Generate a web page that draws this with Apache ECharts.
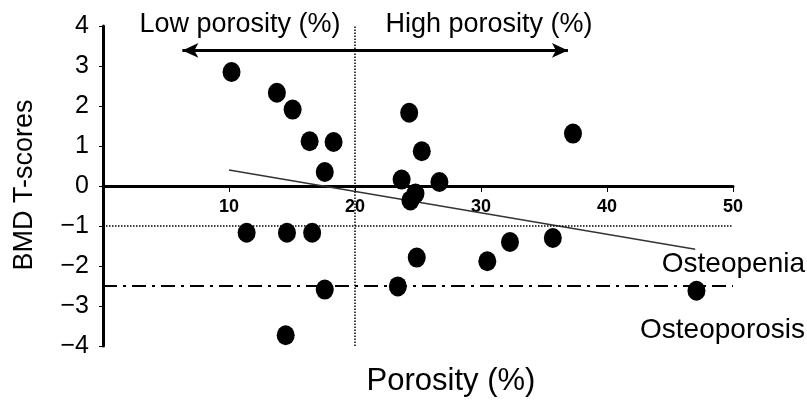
<!DOCTYPE html>
<html>
<head>
<meta charset="utf-8">
<script src="https://cdn.jsdelivr.net/npm/echarts@6/dist/echarts.min.js"></script>
<style>
	html, body { margin: 0; padding: 0; background: #fff; }
	#porosity { width: 807px; height: 403px; }
</style>
</head>
<body>
<div id="porosity"></div>
<script>
// porosity (%) and BMD T-score of each sample
const porosity = [10.2, 13.8, 15.05, 16.4, 18.3, 17.6, 24.3, 25.3, 26.7, 37.3, 11.4, 14.6, 16.6, 17.6, 14.5, 23.4, 24.9, 30.5, 32.3, 35.7, 47.1, 23.7, 24.8, 24.4];
const tScores = [2.85, 2.33, 1.91, 1.12, 1.10, 0.35, 1.83, 0.87, 0.10, 1.31, -1.17, -1.17, -1.17, -2.59, -3.73, -2.51, -1.79, -1.88, -1.40, -1.30, -2.62, 0.16, -0.19, -0.36];

// regression line ends
const trendX = [10, 47];
const trendY = [0.4, -1.58];

const xTicks = [10, 20, 30, 40, 50];
const yTicks = [-4, -3, -2, -1, 0, 1, 2, 3, 4];

const osteopenia = -1;
const osteoporosis = -2.5;
const splitPorosity = 20;
const arrowRange = [6.3, 36.9];
const arrowLevel = 3.39;

const font = 'Liberation Sans, Arial, sans-serif';

chartInit = () => {
	let chart = echarts.init(document.getElementById('porosity'));

	let points = porosity.map((p, i) => [p, tScores[i]]);
	let trend = trendX.map((x, i) => [x, trendY[i]]);

	let option = {
		animation: false,
		backgroundColor: '#fff',
		textStyle: { fontFamily: font, color: '#000' },
		grid: { left: 103, right: 74, top: 26, bottom: 57, containLabel: false },
		xAxis: {
			type: 'value',
			min: 0,
			max: xTicks[xTicks.length - 1],
			interval: 10,
			// axis sits on T-score 0 (plot is 320px high for 8 units)
			offset: -160,
			axisLine: { onZero: false, lineStyle: { color: '#000', width: 3 } },
			axisTick: { show: true, length: 6, lineStyle: { color: '#000', width: 1 } },
			axisLabel: {
				margin: 12,
				fontSize: 18,
				fontWeight: 'bold',
				color: '#000',
				fontFamily: font,
				formatter: v => xTicks.includes(v) ? String(v) : ''
			},
			splitLine: { show: false }
		},
		yAxis: {
			type: 'value',
			min: yTicks[0],
			max: yTicks[yTicks.length - 1],
			interval: 1,
			axisLine: { show: true, lineStyle: { color: '#000', width: 3 } },
			axisTick: { show: true, length: 4, lineStyle: { color: '#000', width: 1 } },
			axisLabel: {
				margin: 14,
				fontSize: 25,
				color: '#000',
				fontFamily: font,
				formatter: v => String(v).replace('-', '\u2212')
			},
			splitLine: { show: false }
		},
		graphic: [
			{ type: 'text', x: 25, y: 185, rotation: Math.PI / 2, style: { text: 'BMD T-scores', font: '27px ' + font, fill: '#000', textAlign: 'center', textVerticalAlign: 'middle' } },
			{ type: 'text', x: 451, y: 381, style: { text: 'Porosity (%)', font: '31px ' + font, fill: '#000', textAlign: 'center', textVerticalAlign: 'middle' } },
			{ type: 'text', x: 240, y: 25, style: { text: 'Low porosity (%)', font: '27px ' + font, fill: '#000', textAlign: 'center', textVerticalAlign: 'middle' } },
			{ type: 'text', x: 489, y: 25, style: { text: 'High porosity (%)', font: '27px ' + font, fill: '#000', textAlign: 'center', textVerticalAlign: 'middle' } },
			{ type: 'text', x: 805, y: 264, style: { text: 'Osteopenia', font: '28px ' + font, fill: '#000', textAlign: 'right', textVerticalAlign: 'middle' } },
			{ type: 'text', x: 805, y: 330, style: { text: 'Osteoporosis', font: '28px ' + font, fill: '#000', textAlign: 'right', textVerticalAlign: 'middle' } }
		],
		series: [
			{
				type: 'line',
				data: trend,
				symbol: 'none',
				silent: true,
				lineStyle: { color: '#333', width: 1.5 },
				z: 3,
				markLine: {
					silent: true,
					symbol: ['none', 'none'],
					label: { show: false },
					data: [
						{ xAxis: splitPorosity, lineStyle: { color: '#000', type: 'dotted', width: 1.5 } },
						{ yAxis: osteopenia, lineStyle: { color: '#000', type: 'dotted', width: 1.5 } },
						{ yAxis: osteoporosis, lineStyle: { color: '#000', type: [14, 6, 3, 6], width: 2 } },
						[
							{ coord: [arrowRange[0], arrowLevel], symbol: 'arrow', symbolSize: [11, 16] },
							{ coord: [arrowRange[1], arrowLevel], symbol: 'arrow', symbolSize: [11, 16], lineStyle: { color: '#000', type: 'solid', width: 3 } }
						]
					]
				}
			},
			{
				type: 'scatter',
				data: points,
				symbol: 'circle',
				symbolSize: [18, 20],
				itemStyle: { color: '#000', opacity: 1 },
				z: 4
			}
		]
	};
	chart.setOption(option);
};

chartInit();
</script>
</body>
</html>
